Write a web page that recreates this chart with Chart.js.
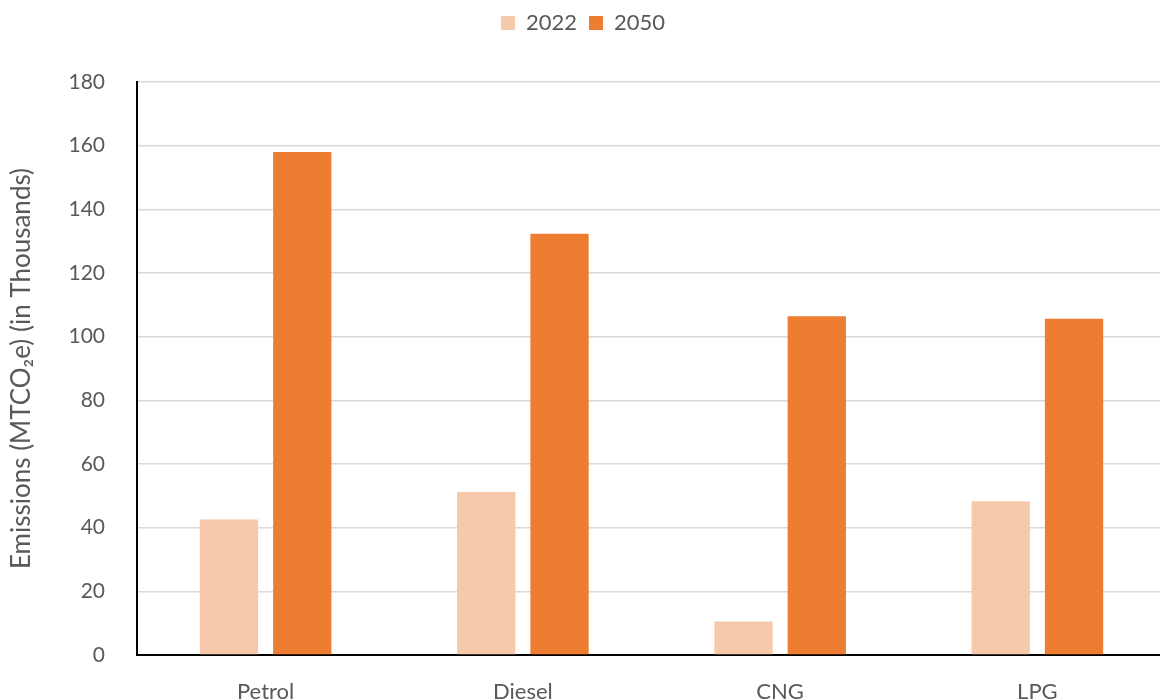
<!DOCTYPE html>
<html>
<head>
<meta charset="utf-8">
<title>Emissions by fuel</title>
<script src="https://cdn.jsdelivr.net/npm/chart.js@4/dist/chart.umd.min.js"></script>
<style>
    html, body { margin: 0; padding: 0; background: #fff; overflow: hidden; }
    #wrap { width: 1160px; height: 700px; overflow: hidden; }
</style>
</head>
<body>
<div id="wrap"><canvas id="emissionsChart" width="1166" height="700"></canvas></div>
<script>
// Chart data
const fuels = ['Petrol', 'Diesel', 'CNG', 'LPG'];
const values2022 = [42.6, 51.2, 10.5, 48.3];
const values2050 = [158, 132.3, 106.4, 105.6];
const yTicks = [0, 20, 40, 60, 80, 100, 120, 140, 160, 180];

const textColor = '#595959';
const fontFamily = 'Lato, "Open Sans", sans-serif';

// Force the legend block height so the plot starts where the reference does
const legendHeightPlugin = {
    id: 'legendHeight',
    beforeInit: function(chart) {
        const origFit = chart.legend.fit;
        chart.legend.fit = function() {
            origFit.bind(chart.legend)();
            this.height = 82;
        };
    }
};

new Chart(document.getElementById('emissionsChart'), {
    type: 'bar',
    data: {
        labels: fuels,
        datasets: [
            {
                label: '2022',
                data: values2022,
                backgroundColor: '#f6c9aa'
            },
            {
                label: '2050',
                data: values2050,
                backgroundColor: '#ed7d31'
            }
        ]
    },
    options: {
        responsive: false,
        animation: false,
        layout: { padding: { left: 0, right: 0, top: 0, bottom: 0 } },
        categoryPercentage: 0.57,
        barPercentage: 0.795,
        plugins: {
            legend: {
                position: 'top',
                labels: {
                    color: textColor,
                    boxWidth: 14,
                    boxHeight: 14,
                    padding: 12,
                    font: { family: fontFamily, size: 22 }
                }
            },
            tooltip: { enabled: false }
        },
        scales: {
            x: {
                grid: { display: false },
                border: { color: '#000', width: 2 },
                ticks: {
                    color: textColor,
                    padding: 16,
                    font: { family: fontFamily, size: 22 }
                },
                afterFit: function(scale) { scale.height = 45; }
            },
            y: {
                min: 0,
                max: 180,
                afterBuildTicks: function(scale) {
                    scale.ticks = yTicks.map(v => ({ value: v }));
                },
                grid: { color: '#d9d9d9', lineWidth: 1.5, drawTicks: false },
                border: { color: '#000', width: 2 },
                ticks: {
                    color: textColor,
                    padding: 32,
                    font: { family: fontFamily, size: 21 }
                },
                title: {
                    display: true,
                    text: 'Emissions (MTCO\u2082e) (in Thousands)',
                    color: textColor,
                    padding: { top: 6, bottom: 0 },
                    font: { family: fontFamily, size: 26 }
                },
                afterFit: function(scale) { scale.width = 137; }
            }
        }
    },
    plugins: [legendHeightPlugin]
});
</script>
</body>
</html>
